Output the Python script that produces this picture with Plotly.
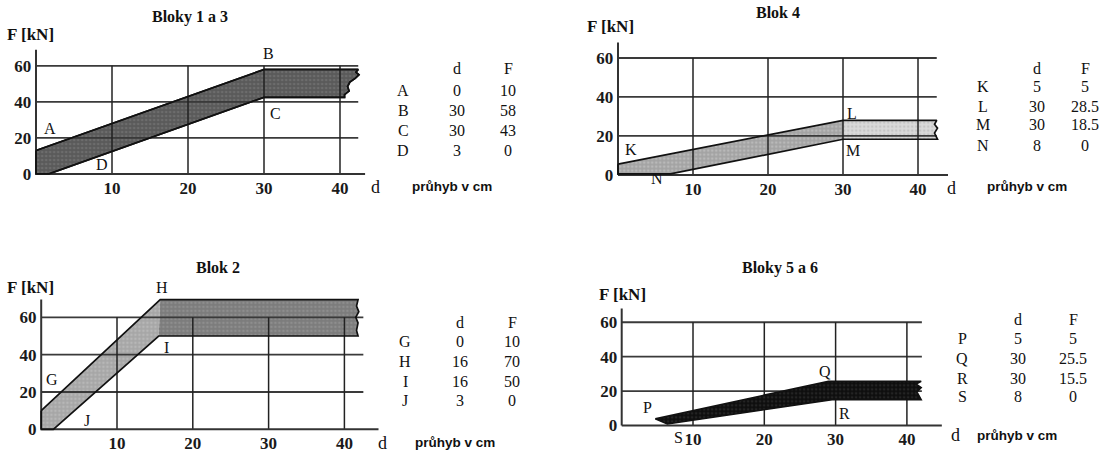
import plotly.graph_objects as go

W, H = 1110, 457

# ---------------- data ----------------
titles = ["Bloky 1 a 3", "Blok 4", "Blok 2", "Bloky 5 a 6"]
x_ticks = [10, 20, 30, 40]
y_ticks = [0, 20, 40, 60]

tab1_pts = ["A", "B", "C", "D"]; tab1_d = [0, 30, 30, 3];  tab1_F = [10, 58, 43, 0]
tab2_pts = ["K", "L", "M", "N"]; tab2_d = [5, 30, 30, 8];  tab2_F = [5, 28.5, 18.5, 0]
tab3_pts = ["G", "H", "I", "J"]; tab3_d = [0, 16, 16, 3];  tab3_F = [10, 70, 50, 0]
tab4_pts = ["P", "Q", "R", "S"]; tab4_d = [5, 30, 30, 8];  tab4_F = [5, 25.5, 15.5, 0]

# band outlines
band1_d = [0, 30, 42.4, 42.1, 42.5, 42.0, 41.3, 41.0, 41.2, 40.6, 40.6, 30, 1.7, 0, 0]
band1_F = [13, 58, 58, 56.5, 55, 53, 51, 48.5, 46, 44, 42.5, 42.5, 0, 0, 13]

band2a_d = [0, 30, 30, 7, 0, 0]
band2a_F = [5.5, 28, 18.3, 0.5, 0.5, 5.5]
band2b_d = [30, 42.5, 42.2, 42.6, 42.2, 42.6, 30, 30]
band2b_F = [28, 28, 26, 24, 21.5, 18.3, 18.3, 28]
band2_d = [0, 30, 42.5, 42.2, 42.6, 42.2, 42.6, 30, 7, 0, 0]
band2_F = [5.5, 28, 28, 26, 24, 21.5, 18.3, 18.3, 0.5, 0.5, 5.5]

band3a_d = [0, 15.7, 15.5, 1.6, 0, 0]
band3a_F = [10, 69.5, 50, 0, 0, 10]
band3b_d = [15.7, 41.8, 41.6, 41.9, 41.5, 41.8, 41.6, 41.8, 15.5, 15.7]
band3b_F = [69.5, 69.5, 66, 63, 60, 57, 53, 50, 50, 69.5]
band3_d = [0, 15.7, 41.8, 41.6, 41.9, 41.5, 41.8, 41.6, 41.8, 15.5, 1.6, 0, 0]
band3_F = [10, 69.5, 69.5, 66, 63, 60, 57, 53, 50, 50, 0, 0, 10]

band4_d = [4.7, 29, 42, 41.3, 42, 41.4, 42, 29.5, 6.4, 4.7]
band4_F = [3.8, 25.7, 25.7, 24, 22, 19.5, 15, 15, 0.8, 3.8]

# panel geometry: origin pixel, px per unit (x), px per unit (y), axis extents
panels = [
    dict(x0=36.0, sx=7.6, y0=177.0, sy=1.833, ytop=69, xend=43.3, hend=42.4),
    dict(x0=618.0, sx=7.5, y0=178.0, sy=1.983, ytop=68, xend=44.0, hend=42.5),
    dict(x0=41.2, sx=7.58, y0=437.0, sy=1.9, ytop=69.5, xend=44.5, hend=42.5),
    dict(x0=621.7, sx=7.13, y0=433.0, sy=1.75, ytop=68, xend=44.9, hend=42.1),
]
XR = [-0.5, 46]
YR = [-1, 71]

SERIF = "Liberation Serif"
SANS = "Liberation Sans"

fig = go.Figure()


def axn(i):
    return ("x" if i == 0 else f"x{i+1}"), ("y" if i == 0 else f"y{i+1}")


def band(i, d, F, fill, fg=None, line=True):
    xa, ya = axn(i)
    kw = {}
    if fg is not None:
        kw["fillpattern"] = dict(shape=".", fgcolor=fg, bgcolor=fill, size=4, solidity=0.35)
    fig.add_trace(go.Scatter(
        x=d, y=F, mode="lines", fill="toself", fillcolor=fill,
        line=dict(color="#111" if line else "rgba(0,0,0,0)", width=1.6 if line else 0),
        xaxis=xa, yaxis=ya, hoverinfo="skip", showlegend=False, **kw))


def outline(i, d, F):
    xa, ya = axn(i)
    fig.add_trace(go.Scatter(x=d, y=F, mode="lines", line=dict(color="#111", width=1.7),
                             xaxis=xa, yaxis=ya, hoverinfo="skip", showlegend=False))


def grid(i):
    p = panels[i]
    xa, ya = axn(i)
    hx, hy = [], []
    for yv in y_ticks[1:]:
        hx += [0, p["hend"], None]; hy += [yv, yv, None]
    fig.add_trace(go.Scatter(x=hx, y=hy, mode="lines", line=dict(color="#3a3a3a", width=1.8),
                             xaxis=xa, yaxis=ya, hoverinfo="skip", showlegend=False))
    vx, vy = [], []
    for xv in x_ticks:
        vx += [xv, xv, None]; vy += [0, 60, None]
    fig.add_trace(go.Scatter(x=vx, y=vy, mode="lines", line=dict(color="#222", width=1.5),
                             xaxis=xa, yaxis=ya, hoverinfo="skip", showlegend=False))
    # axis lines
    fig.add_trace(go.Scatter(x=[0, 0, None, 0, p["xend"]], y=[p["ytop"], 0, None, 0, 0], mode="lines",
                             line=dict(color="#333", width=2),
                             xaxis=xa, yaxis=ya, hoverinfo="skip", showlegend=False))


# panel 1
band(0, band1_d, band1_F, "#5a5a5a", fg="#808080")
grid(0)
outline(0, band1_d, band1_F)
# panel 2
band(1, band2a_d, band2a_F, "#a3a3a3", fg="#d0d0d0", line=False)
band(1, band2b_d, band2b_F, "#dadada", fg="#b0b0b0", line=False)
grid(1)
outline(1, band2_d, band2_F)
# panel 3
band(2, band3a_d, band3a_F, "#a6a6a6", fg="#c8c8c8", line=False)
band(2, band3b_d, band3b_F, "#7c7c7c", fg="#a0a0a0", line=False)
grid(2)
outline(2, band3_d, band3_F)
# panel 4
grid(3)
band(3, band4_d, band4_F, "#0e0e0e", fg="#3a3a3a")

layout = dict(paper_bgcolor="white", plot_bgcolor="rgba(0,0,0,0)",
              width=W, height=H, margin=dict(l=0, r=0, t=0, b=0), showlegend=False)

tickfont = dict(family=SERIF, size=17, color="#1a1a1a", weight="bold")
for i, p in enumerate(panels):
    xd = [(p["x0"] + XR[0] * p["sx"]) / W, (p["x0"] + XR[1] * p["sx"]) / W]
    yd = [1 - (p["y0"] - YR[0] * p["sy"]) / H, 1 - (p["y0"] - YR[1] * p["sy"]) / H]
    xa, ya = axn(i)
    xk = "xaxis" if i == 0 else f"xaxis{i+1}"
    yk = "yaxis" if i == 0 else f"yaxis{i+1}"
    layout[xk] = dict(domain=xd, range=XR, anchor=ya, tickvals=x_ticks, ticktext=[str(v) for v in x_ticks],
                      showgrid=False, zeroline=False, showline=False, ticks="", tickfont=tickfont,
                      fixedrange=True)
    layout[yk] = dict(domain=yd, range=YR, anchor=xa, tickvals=y_ticks, ticktext=[str(v) for v in y_ticks],
                      showgrid=False, zeroline=False, showline=False, ticks="", tickfont=tickfont,
                      fixedrange=True)
fig.update_layout(**layout)

ann = []


def pa(x, y, text, size=16, family=SERIF, bold=False, xanchor="center"):
    ann.append(dict(x=x / W, y=1 - y / H, xref="paper", yref="paper", text=text, showarrow=False,
                    xanchor=xanchor, yanchor="middle",
                    font=dict(family=family, size=size, color="#111", weight="bold" if bold else "normal")))


def pt_label(i, d, F, text, dx, dy):
    xa, ya = axn(i)
    ann.append(dict(x=d, y=F, xref=xa, yref=ya, text=text, showarrow=False, xshift=dx, yshift=dy,
                    xanchor="center", yanchor="middle",
                    font=dict(family=SERIF, size=16, color="#111")))


# titles, axis names
title_pos = [(190, 17), (778, 13), (218, 272), (780, 273)]
fkn_pos = [(5, 35), (585, 27), (5, 293), (597, 300)]
d_pos = [(375, 190), (951, 191), (383, 451), (955, 443)]
pr_pos = [(410, 190), (985, 190), (413, 450), (975, 443)]
for i in range(4):
    pa(*title_pos[i], titles[i], size=16, bold=True)
    pa(*fkn_pos[i], "F [kN]", size=17, bold=True, xanchor="left")
    pa(*d_pos[i], "d", size=18)
    pa(*pr_pos[i], "průhyb v cm", size=13.5, family=SANS, bold=True, xanchor="left")

# tables
tables = [
    (tab1_pts, tab1_d, tab1_F, (403, 457, 508), [70, 92, 112, 133, 153]),
    (tab2_pts, tab2_d, tab2_F, (983, 1037, 1085), [70, 88, 108, 127, 148]),
    (tab3_pts, tab3_d, tab3_F, (405, 460, 512), [328, 348, 368, 388, 408]),
    (tab4_pts, tab4_d, tab4_F, (962, 1018, 1073), [325, 345, 365, 385, 404]),
]


def fmt(v):
    return str(int(v)) if float(v).is_integer() else str(v)


for pts, ds, Fs, cols, rows in tables:
    pa(cols[1], rows[0], "d")
    pa(cols[2], rows[0], "F")
    for k in range(4):
        pa(cols[0], rows[k + 1], pts[k])
        pa(cols[1], rows[k + 1], fmt(ds[k]))
        pa(cols[2], rows[k + 1], fmt(Fs[k]))

# point letters on the charts
shifts = [
    [(14, 27), (4, 16), (11, -17), (43, 9)],
    [(-25, 16), (9, 6), (10, -12), (-21, -4)],
    [(11, 31), (0, 11), (4, -11), (23, 9)],
    [(-10, 9), (-11, 10), (9, -15), (0, -12)],
]
for i, (pts, ds, Fs, _, _) in enumerate(tables):
    for k in range(4):
        pt_label(i, ds[k], Fs[k], pts[k], *shifts[i][k])

fig.update_layout(annotations=ann)
fig.write_html("out.html")
